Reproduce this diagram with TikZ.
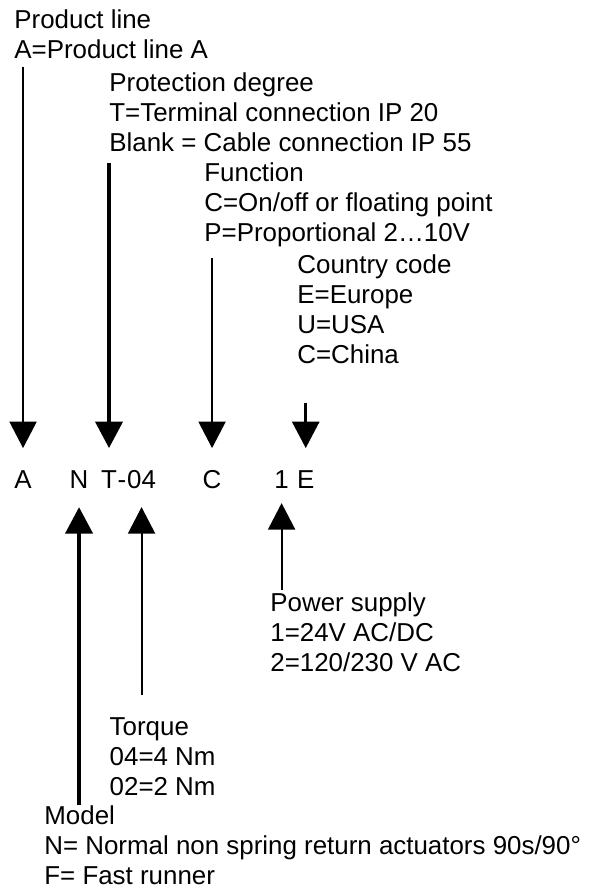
\documentclass[tikz,border=0pt]{standalone}
\usepackage{fontspec}
\setmainfont{Liberation Sans}
\usetikzlibrary{positioning, arrows.meta}

\begin{document}
\begin{tikzpicture}[
    x=0.5pt, y=-0.5pt,
    desc/.style={anchor=base west, inner sep=0, align=left,
                 font=\fontsize{12.95}{14.9}\selectfont},
    letter/.style={anchor=base west, inner sep=0, text height=19.75pt,
                   text depth=9.35pt, font=\fontsize{12.95}{14.9}\selectfont},
    arrow/.style={-{Triangle[width=13.5pt, length=13.25pt]}},
    thinarr/.style={arrow, line width=1pt},
    medarr/.style={arrow, line width=1.5pt},
    thickarr/.style={arrow, line width=2pt},
  ]
  \useasboundingbox (0,0) rectangle (597,890);
  % descriptions above the code (placed by their last line)
  \node[desc] (prodline) at (14,58)  {Product line\\A=Product line A};
  \node[desc] (protect)  at (109,151) {Protection degree\\T=Terminal connection IP 20\\Blank = Cable connection IP 55};
  \node[desc] (func)     at (204,241) {Function\\C=On/off or floating point\\P=Proportional 2…10V};
  \node[desc] (country)  at (297,363) {Country code\\E=Europe\\U=USA\\C=China};
  % type code
  \node[letter] (codeA) at (14,488) {A};
  \node[letter] (codeN) at (69.3,488) {N};
  \node[letter] (codeT) at (100.7,488) {T};
  \node[letter, right=0pt of codeT] (codeDash) {-};
  \node[letter, right=0pt of codeDash] (codeTq) {04};
  \node[letter] (codeC) at (202.3,488) {C};
  \node[letter] (codeOne) at (274,488) {1};
  \node[letter] (codeE) at (296.7,488) {E};
  % descriptions below the code
  \node[desc] (power)  at (270,671)   {Power supply\\1=24V AC/DC\\2=120/230 V AC};
  \node[desc] (torque) at (109.3,795) {Torque\\04=4 Nm\\02=2 Nm};
  \node[desc] (model)  at (44,884)    {Model\\N= Normal non spring return actuators 90s/90°\\F= Fast runner};
  % arrows
  \draw[thinarr, shorten <=4pt] (codeA.north |- prodline.south) -- (codeA.north);
  \draw[thickarr, shorten <=5.5pt] (codeT.north |- protect.south) -- (codeT.north);
  \draw[thinarr, shorten <=5.8pt] (codeC.north |- func.south) -- (codeC.north);
  \draw[medarr, shorten <=19.5pt] (codeE.north |- country.south) -- (codeE.north);
  \draw[thickarr] (codeN.south |- model.north) -- (codeN.south);
  \draw[thinarr, shorten <=11.25pt] (codeTq.south |- torque.north) -- (codeTq.south);
  \draw[thinarr, shorten <=1pt, shorten >=-2pt] (codeOne.south |- power.north) -- (codeOne.south);
\end{tikzpicture}
\end{document}
